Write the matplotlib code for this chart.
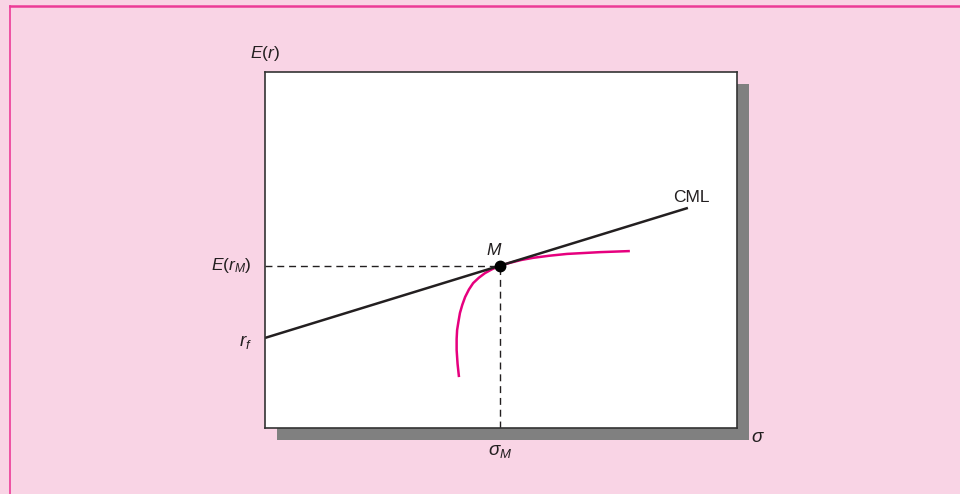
"""
Capital market line (CML) tangent to the efficient frontier at M.
"""

import matplotlib
matplotlib.use("Agg")
from matplotlib import pyplot as plt
from matplotlib.patches import Rectangle
from matplotlib.lines import Line2D

plt.rcParams["font.family"] = ["Liberation Sans", "DejaVu Sans"]
plt.rcParams["mathtext.fontset"] = "custom"
plt.rcParams["mathtext.rm"] = "Liberation Sans"
plt.rcParams["mathtext.it"] = "Liberation Sans:italic"

# risk-free rate and market portfolio (sigma, E(r)), axes run 0..1
RF = 0.253
M_SIGMA, M_RET = 0.498, 0.456
CML_END = 0.896

# efficient frontier
frontier_sigma = [0.411, 0.408, 0.406, 0.406, 0.407, 0.410, 0.413, 0.418,
                  0.424, 0.432, 0.441, 0.453, 0.466, 0.481, 0.498,
                  0.519, 0.543, 0.568, 0.603, 0.640, 0.710, 0.773]
frontier_ret = [0.143, 0.180, 0.219, 0.250, 0.275, 0.300, 0.323, 0.346,
                0.368, 0.389, 0.407, 0.422, 0.435, 0.446, 0.456,
                0.464, 0.472, 0.478, 0.484, 0.489, 0.494, 0.497]

BG = "#F9D4E5"
PINK = "#E6007E"
DARK = "#231F20"

fig = plt.figure(figsize=(9.6, 4.94), dpi=100, facecolor=BG)

# axes box placed to match the reference pixels
W, H = 960, 494
left, right, top, bottom = 265, 737, 72, 428
pos = [left / W, (H - bottom) / H, (right - left) / W, (bottom - top) / H]
ax = fig.add_axes(pos)
ax.set_zorder(1)

# drop shadow behind the box
shadow = Rectangle(((left + 12) / W, (H - bottom - 12) / H), pos[2], pos[3],
                   transform=fig.transFigure, facecolor="#808080",
                   edgecolor="none", zorder=-1)
fig.patches.append(shadow)

# pink frame lines at top and left
top_y = (H - 6.5) / H
fig.lines.append(Line2D([10 / W, 1], [top_y, top_y], transform=fig.transFigure,
                        color="#EC3B97", lw=1.8))
fig.lines.append(Line2D([10 / W, 10 / W], [0, top_y], transform=fig.transFigure,
                        color="#EC3B97", lw=1.2))

ax.set_xlim(0, 1)
ax.set_ylim(0, 1)
ax.set_xticks([])
ax.set_yticks([])
for s in ax.spines.values():
    s.set_color("#333333")
    s.set_linewidth(1.2)

# dashed guides to M
ax.plot([0, M_SIGMA], [M_RET, M_RET], ls=(0, (5, 3.5)), color=DARK, lw=1.0)
ax.plot([M_SIGMA, M_SIGMA], [0, M_RET], ls=(0, (5, 3.5)), color=DARK, lw=1.0)

# frontier and CML
ax.plot(frontier_sigma, frontier_ret, color=PINK, lw=1.8, solid_capstyle="butt",
        solid_joinstyle="round")
slope = (M_RET - RF) / M_SIGMA
ax.plot([0, CML_END], [RF, RF + slope * CML_END], color=DARK, lw=1.8,
        solid_capstyle="butt")
ax.plot([M_SIGMA], [M_RET], "o", color="black", ms=7.5, zorder=5)

fs = 12.5
ax.text(0.0, 1.053, r"$\mathit{E(r)}$", ha="center", va="center",
        fontsize=fs, color=DARK, clip_on=False)
ax.text(-0.028, M_RET, r"$\mathit{E(r_M)}$", ha="right", va="center",
        fontsize=fs, color=DARK, clip_on=False)
ax.text(-0.028, RF - 0.012, r"$\mathit{r_f}$", ha="right", va="center",
        fontsize=13.5, color=DARK, clip_on=False)
ax.text(0.485, 0.50, r"$\mathit{M}$", ha="center", va="center",
        fontsize=fs, color=DARK)
ax.text(0.864, 0.647, "CML", ha="left", va="center", fontsize=fs, color=DARK)
ax.text(M_SIGMA, -0.065, r"$\sigma_M$", ha="center", va="center",
        fontsize=13.5, color=DARK, clip_on=False)
ax.text(1.044, -0.027, r"$\sigma$", ha="center", va="center",
        fontsize=13.5, color=DARK, clip_on=False)

fig.savefig("out.png", dpi=100, facecolor=BG)
